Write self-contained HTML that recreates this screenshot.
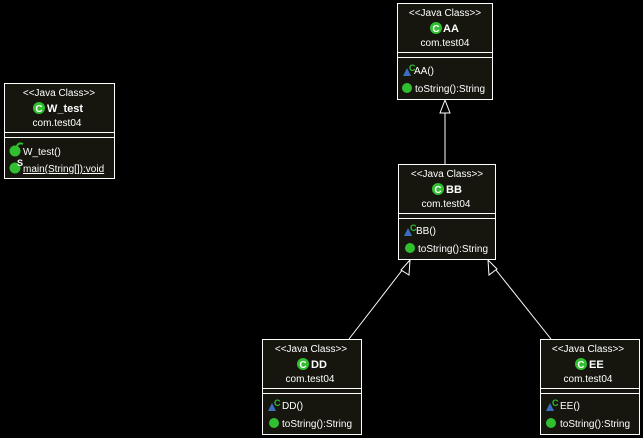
<!DOCTYPE html>
<html><head><meta charset="utf-8"><style>
html,body{margin:0;padding:0;background:#000;}
svg{display:block;font-family:"Liberation Sans",sans-serif;}
</style></head><body>
<svg width="643" height="438" viewBox="0 0 643 438">
<rect width="643" height="438" fill="#000"/>
<defs>
<g id="ci"><circle cx="0" cy="0" r="6" fill="#2fbf2f"/><text x="0" y="3.8" font-size="10" font-weight="bold" fill="#fff" text-anchor="middle">C</text></g>
<g id="ctor"><path d="M-5,5 L-1,-3 L3,5 Z" fill="#3a6fc0"/><text x="1" y="0" font-size="9" font-weight="bold" fill="#2fbf2f">C</text></g>
<g id="dot"><circle cx="0" cy="0" r="5" fill="#2fbf2f"/></g>
</defs>
<g stroke="#fff" stroke-width="1" fill="none">
<line x1="445" y1="99" x2="445" y2="164"/>
<line x1="410" y1="260" x2="349" y2="339"/>
<line x1="488" y1="260" x2="551" y2="339"/>
</g>
<g stroke="#fff" stroke-width="1" fill="#000">
<path d="M445,100 L440,113 L450,113 Z"/>
<path d="M410,260 L401,270 L409,275 Z"/>
<path d="M488,260 L489,275 L497,269 Z"/>
</g>
<g font-size="10" fill="#fff">
<!-- AA -->
<rect x="397.5" y="3.5" width="95" height="96" fill="#16160f" stroke="#fff"/>
<line x1="397" y1="52.5" x2="493" y2="52.5" stroke="#fff"/>
<line x1="397" y1="57.5" x2="493" y2="57.5" stroke="#fff"/>
<text x="445" y="16" text-anchor="middle">&lt;&lt;Java Class&gt;&gt;</text>
<use href="#ci" x="436" y="28"/>
<text x="443" y="32" font-size="11" font-weight="bold">AA</text>
<text x="445" y="46" text-anchor="middle">com.test04</text>
<use href="#ctor" x="408" y="71"/><text x="414" y="74">AA()</text>
<use href="#dot" x="407" y="88"/><text x="415" y="92">toString():String</text>
<!-- W_test -->
<rect x="4.5" y="83.5" width="110" height="95" fill="#16160f" stroke="#fff"/>
<line x1="4" y1="132.5" x2="115" y2="132.5" stroke="#fff"/>
<line x1="4" y1="137.5" x2="115" y2="137.5" stroke="#fff"/>
<text x="59" y="96" text-anchor="middle">&lt;&lt;Java Class&gt;&gt;</text>
<use href="#ci" x="39" y="108"/>
<text x="47" y="112" font-size="11" font-weight="bold">W_test</text>
<text x="57" y="126" text-anchor="middle">com.test04</text>
<circle cx="15" cy="151" r="5.5" fill="#2fbf2f"/><path d="M17,146 Q19,142 23,144" stroke="#2fbf2f" stroke-width="2" fill="none"/><text x="23" y="155">W_test()</text>
<circle cx="15" cy="168" r="5.5" fill="#2fbf2f"/><text x="17" y="166" font-size="9" font-weight="bold" fill="#fff">S</text><text x="23" y="172" text-decoration="underline">main(String[]):void</text>
<!-- BB -->
<rect x="398.5" y="164.5" width="97" height="95" fill="#16160f" stroke="#fff"/>
<line x1="398" y1="213.5" x2="496" y2="213.5" stroke="#fff"/>
<line x1="398" y1="218.5" x2="496" y2="218.5" stroke="#fff"/>
<text x="447" y="177" text-anchor="middle">&lt;&lt;Java Class&gt;&gt;</text>
<use href="#ci" x="438" y="189"/>
<text x="446" y="193" font-size="11" font-weight="bold">BB</text>
<text x="446" y="207" text-anchor="middle">com.test04</text>
<use href="#ctor" x="409" y="231"/><text x="416" y="234">BB()</text>
<use href="#dot" x="410" y="248"/><text x="418" y="252">toString():String</text>
<!-- DD -->
<rect x="262.5" y="339.5" width="99" height="95" fill="#16160f" stroke="#fff"/>
<line x1="262" y1="388.5" x2="362" y2="388.5" stroke="#fff"/>
<line x1="262" y1="393.5" x2="362" y2="393.5" stroke="#fff"/>
<text x="311" y="352" text-anchor="middle">&lt;&lt;Java Class&gt;&gt;</text>
<use href="#ci" x="303" y="364"/>
<text x="311" y="368" font-size="11" font-weight="bold">DD</text>
<text x="310" y="382" text-anchor="middle">com.test04</text>
<use href="#ctor" x="273" y="406"/><text x="282" y="409">DD()</text>
<use href="#dot" x="274" y="423"/><text x="282" y="427">toString():String</text>
<!-- EE -->
<rect x="540.5" y="339.5" width="99" height="95" fill="#16160f" stroke="#fff"/>
<line x1="540" y1="388.5" x2="640" y2="388.5" stroke="#fff"/>
<line x1="540" y1="393.5" x2="640" y2="393.5" stroke="#fff"/>
<text x="588" y="352" text-anchor="middle">&lt;&lt;Java Class&gt;&gt;</text>
<use href="#ci" x="581" y="364"/>
<text x="589" y="368" font-size="11" font-weight="bold">EE</text>
<text x="588" y="382" text-anchor="middle">com.test04</text>
<use href="#ctor" x="551" y="406"/><text x="560" y="409">EE()</text>
<use href="#dot" x="551" y="423"/><text x="560" y="427">toString():String</text>
</g>
</svg>
</body></html>
